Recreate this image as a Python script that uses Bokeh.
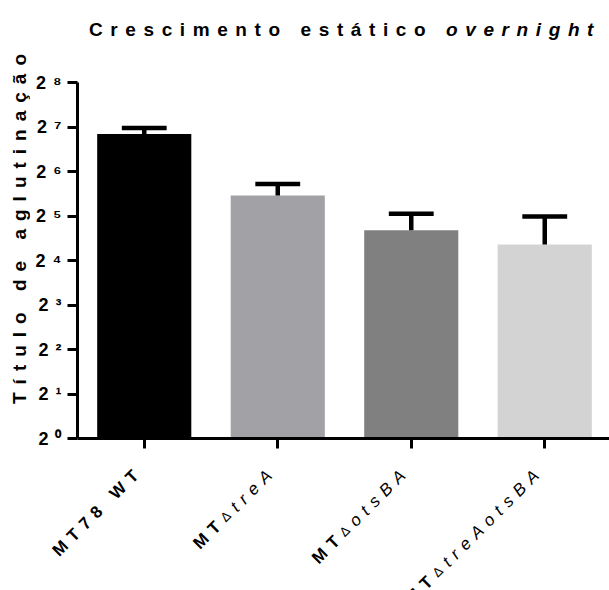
import math
from bokeh.plotting import figure
from bokeh.models import Range1d, FixedTicker, Div, ColumnDataSource
from bokeh.layouts import column, row
from bokeh.embed import file_html
from bokeh.resources import INLINE

# ---- data ----
strains = ["MT78 WT", "MT\u0394treA", "MT\u0394otsBA", "MT\u0394treAotsBA"]
# each label split in styled parts: (text, style)
strain_parts = [
    [("MT78 WT", "bold")],
    [("MT", "bold"), ("\u0394", "normal"), ("treA", "italic")],
    [("MT", "bold"), ("\u0394", "normal"), ("otsBA", "italic")],
    [("MT", "bold"), ("\u0394", "normal"), ("treAotsBA", "italic")],
]
titer_mean = [115.0, 44.0, 25.6, 20.5]
titer_sd = [11.0, 8.7, 7.5, 11.3]
bar_colors = ["#000000", "#A2A1A6", "#808080", "#D3D3D3"]
y_ticks = [1, 2, 4, 8, 16, 32, 64, 128, 256]
y_tick_labels = ["2\u2070", "2\u00b9", "2\u00b2", "2\u00b3", "2\u2074",
                 "2\u2075", "2\u2076", "2\u2077", "2\u2078"]
title_main = "Crescimento est\u00e1tico"
title_ital = "overnight"
y_title = "T\u00edtulo de aglutina\u00e7\u00e3o"

FONT = "Liberation Sans"
xs = list(range(len(strains)))
upper = [m + s for m, s in zip(titer_mean, titer_sd)]

# layout constants (pixels)
YLAB_W = 22
PLOT_W = 579
BORDER_L = 45
CAT_PX = (PLOT_W - BORDER_L) / 4.0
TOP_H = 52
PLOT_H = 390

# ---- title (HTML, mixed styles) ----
title_div = Div(
    text=('<div style="padding:15px 0 0 84px;line-height:20px;white-space:nowrap;'
          'font-family:\'Liberation Sans\';font-size:19px;font-weight:bold;'
          'letter-spacing:7.6px;color:#000;">'
          f'{title_main} <i>{title_ital}</i></div>'),
    width=YLAB_W + PLOT_W, height=TOP_H)

# ---- y title (rotated HTML) ----
ylab_div = Div(
    text=('<div style="padding:53px 5px 0 0;line-height:20px;white-space:nowrap;'
          'font-family:\'Liberation Sans\';font-size:19px;font-weight:bold;'
          'letter-spacing:8.0px;color:#000;">'
          f'{y_title}</div>'),
    width=YLAB_W, height=PLOT_H,
    styles={"writing-mode": "vertical-rl", "transform": "rotate(180deg)"})

# ---- main plot ----
p = figure(width=PLOT_W, height=PLOT_H, output_backend="svg", toolbar_location=None,
           y_axis_type="log", x_range=Range1d(-0.5, 3.5), y_range=Range1d(1, 256),
           min_border_left=BORDER_L, min_border_right=0, min_border_top=20,
           min_border_bottom=14)
p.styles = {"letter-spacing": "7px"}
p.outline_line_color = None
p.xgrid.visible = False
p.ygrid.visible = False

p.vbar(x=xs, width=0.705, top=titer_mean, bottom=1, fill_color=bar_colors,
       line_color=None)
p.segment(x0=xs, x1=xs, y0=titer_mean, y1=upper, line_color="black", line_width=4.5)
p.segment(x0=[x - 0.168 for x in xs], x1=[x + 0.168 for x in xs], y0=upper, y1=upper,
          line_color="black", line_width=4.5)

ya = p.yaxis[0]
ya.ticker = FixedTicker(ticks=y_ticks, minor_ticks=[])
ya.major_label_overrides = {t: l for t, l in zip(y_ticks, y_tick_labels)}
ya.major_label_text_font = FONT
ya.major_label_text_font_style = "bold"
ya.major_label_text_font_size = "18px"
ya.major_label_text_color = "black"
ya.major_label_standoff = 13
ya.axis_line_width = 3
ya.major_tick_line_width = 3
ya.major_tick_out = 10
ya.major_tick_in = 0
ya.minor_tick_line_color = None

xa = p.xaxis[0]
xa.ticker = FixedTicker(ticks=xs)
xa.major_label_overrides = {x: "" for x in xs}
xa.major_label_text_font_size = "1px"
xa.major_label_standoff = 0
xa.axis_line_width = 3
xa.major_tick_line_width = 3
xa.major_tick_out = 10
xa.major_tick_in = 0

# ---- x labels (separate root figure, same data-to-pixel mapping) ----
BOLD_W = {"M": 833, "T": 611, "7": 556, "8": 556, " ": 278, "W": 944}
REG_W = {"\u0394": 668}
ITAL_W = {"t": 278, "r": 333, "e": 556, "A": 667, "o": 556, "s": 500, "B": 667}
SIZE = {"bold": 17, "normal": 13, "italic": 17}
TABLE = {"bold": BOLD_W, "normal": REG_W, "italic": ITAL_W}
LS = 6.5  # letter spacing (px)


def part_len(txt, style):
    return sum(TABLE[style].get(ch, 556) * SIZE[style] / 1000.0 + LS for ch in txt)


c = math.cos(math.pi / 4)
END_DX, END_DY = 6, 6
lx, ltxt, lstyle, lsize, lxo, lyo = [], [], [], [], [], []
for x, parts in zip(xs, strain_parts):
    L = sum(part_len(t, s) for t, s in parts)
    acc = 0.0
    for t, s in parts:
        rem = L - acc
        lx.append(x)
        ltxt.append(t)
        lstyle.append(s)
        lsize.append(f"{SIZE[s]}px")
        lxo.append(END_DX - c * rem)
        lyo.append(END_DY + c * rem)
        acc += part_len(t, s)

LAB_W = YLAB_W + PLOT_W
LAB_OFF = YLAB_W + BORDER_L  # pixels between this figure's left edge and the y axis
src = ColumnDataSource(dict(x=lx, y=[1] * len(lx), text=ltxt, style=lstyle,
                            size=lsize, xo=lxo, yo=lyo))
p2 = figure(width=LAB_W, height=140, output_backend="svg", toolbar_location=None,
            x_range=Range1d(-0.5 - LAB_OFF / CAT_PX, 3.5), y_range=Range1d(0, 1),
            x_axis_location=None, y_axis_location=None,
            min_border_left=0, min_border_right=0, min_border_top=0,
            min_border_bottom=0)
p2.styles = {"letter-spacing": f"{LS}px"}
p2.outline_line_color = None
p2.xgrid.visible = False
p2.ygrid.visible = False
p2.text(x="x", y="y", text="text", source=src, angle=math.pi / 4,
        text_align="left", text_baseline="middle", x_offset="xo", y_offset="yo",
        text_font={"value": FONT}, text_font_style="style", text_font_size="size",
        text_color="black")

top = column(title_div, row(ylab_div, p))
open("out.html", "w").write(file_html([top, p2], INLINE))
